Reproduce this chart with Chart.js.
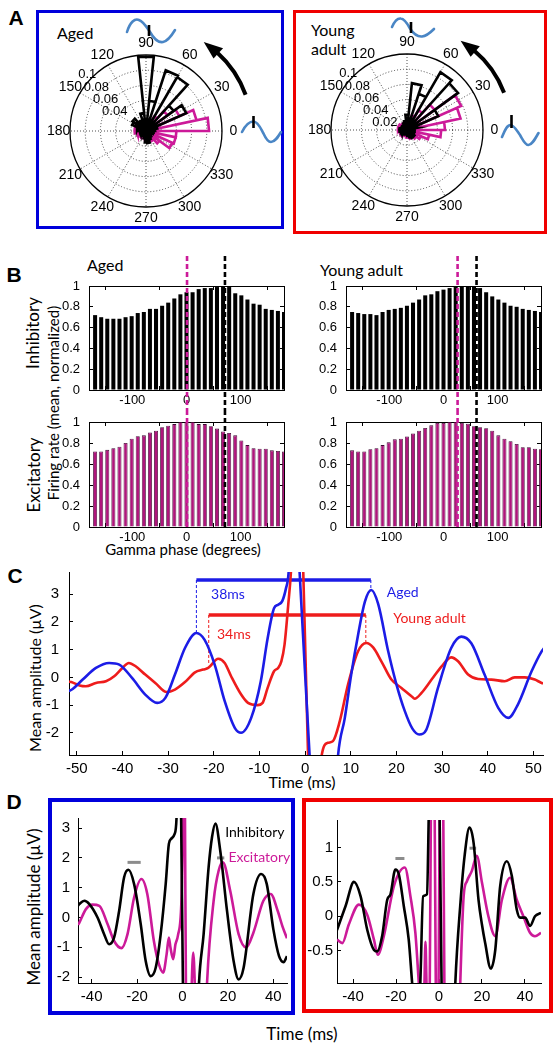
<!DOCTYPE html>
<html>
<head>
<meta charset="utf-8">
<title>Gamma phase locking - aged vs young adult</title>
<script src="https://cdn.jsdelivr.net/npm/chart.js@4.4.1/dist/chart.umd.min.js"></script>
<style>
    html, body { margin: 0; padding: 0; background: #fff; }
    body { position: relative; width: 559px; height: 1049px; overflow: hidden; font-family: Lato, "Open Sans", sans-serif; color: #000; }
    canvas { position: absolute; }
    svg { position: absolute; left: 0; top: 0; }
    .box { position: absolute; box-sizing: border-box; }
    .txt { position: absolute; white-space: nowrap; line-height: 1; }
    .ctr { position: absolute; white-space: nowrap; line-height: 1; transform: translate(-50%, -50%); }
    .vert { position: absolute; white-space: nowrap; line-height: 1; transform: translate(-50%, -50%) rotate(-90deg); }
    .letter { position: absolute; line-height: 1; transform: translate(-50%, -50%); font: bold 21px "Liberation Sans", Arial, sans-serif; }
</style>
</head>
<body>

<!-- panel frames -->
<div class="box" style="left:36px;top:10px;width:248px;height:219px;border:3.5px solid #0000dc"></div>
<div class="box" style="left:293px;top:10px;width:254px;height:224px;border:3.5px solid #f00000"></div>
<div class="box" style="left:48px;top:798px;width:247px;height:217px;border:4.5px solid #0000dc"></div>
<div class="box" style="left:302px;top:798px;width:251px;height:215px;border:4.5px solid #f00000"></div>

<!-- panel letters -->
<div class="letter" style="left:16px;top:18px">A</div>
<div class="letter" style="left:14px;top:275px">B</div>
<div class="letter" style="left:15px;top:576px">C</div>
<div class="letter" style="left:14px;top:802px">D</div>

<!-- titles and axis labels -->
<div class="txt" style="left:57px;top:25px;font-size:16px">Aged</div>
<div class="txt" style="left:311px;top:22px;font-size:16px">Young</div>
<div class="txt" style="left:311px;top:41px;font-size:16px">adult</div>

<div class="txt" style="left:87px;top:257px;font-size:16px">Aged</div>
<div class="txt" style="left:320px;top:262px;font-size:16px">Young adult</div>
<div class="vert" style="left:32px;top:333px;font-size:17px">Inhibitory</div>
<div class="vert" style="left:33px;top:475px;font-size:17px">Excitatory</div>
<div class="vert" style="left:53px;top:403px;font-size:15px">Firing rate (mean, normalized)</div>
<div class="ctr" style="left:183px;top:549px;font-size:15px">Gamma phase (degrees)</div>

<div class="vert" style="left:35px;top:678px;font-size:16px">Mean amplitude (µV)</div>
<div class="ctr" style="left:302px;top:782px;font-size:16px">Time (ms)</div>

<div class="vert" style="left:33px;top:907px;font-size:17px">Mean amplitude (µV)</div>
<div class="ctr" style="left:302px;top:1033px;font-size:17px">Time (ms)</div>

<canvas id="polarAged"></canvas>
<canvas id="polarYoung"></canvas>
<canvas id="bAgedInh"></canvas>
<canvas id="bAgedExc"></canvas>
<canvas id="bYoungInh"></canvas>
<canvas id="bYoungExc"></canvas>
<canvas id="cLfp"></canvas>
<canvas id="dAged"></canvas>
<canvas id="dYoung"></canvas>

<!-- little gamma-cycle icons and rotation arrows of panel A -->
<svg id="deco" width="559" height="240">
    <g fill="none" stroke="#4a86c5" stroke-width="2.6" stroke-linecap="round">
        <path d="M127,32 C130,22 135,18 139,20 C144,22 147,28 150,32 C154,39 158,43 163,42 C168,41 172,35 175,30"/>
        <path d="M242,132 C245,126 249,121.5 253.5,121.5 C258,121.5 261,129 263.5,133.5 C265.5,138 267.5,142 271,142 C275,142 278,137 281,132"/>
        <path d="M392,27 C395,20 398,18 401,18.5 C405,19 408,25 410,28.5 C413,33 417,37 422,36.5 C427,36 431,32 434,29"/>
        <path d="M502,137 C505,130 507,125 510.5,125 C514,125 517,131 520,135 C523,140 525,145 528.5,145 C532,145 535,139 538.5,133"/>
    </g>
    <g stroke="#000" stroke-width="2.6">
        <line x1="149" y1="25" x2="149" y2="36"/>
        <line x1="253.5" y1="116" x2="253.5" y2="128"/>
        <line x1="411" y1="22" x2="411" y2="33"/>
        <line x1="511.5" y1="115" x2="511.5" y2="128"/>
    </g>
</svg>

<script>

/* ==========================================
        DATA : A  (rose histograms, 12 deg bins from 0 deg)
========================================== */

const roseBinDeg = 12;
const roseRings = [0.02, 0.04, 0.06, 0.08, 0.1];
const roseSpokes = [0, 30, 60, 90, 120, 150];
const roseAngleLabels = [0, 30, 60, 90, 120, 150, 180, 210, 240, 270, 300, 330];
const roseRingLabelsAged = [0.04, 0.06, 0.08, 0.1];
const roseRingLabelsYoung = [0.02, 0.04, 0.06, 0.08, 0.1];

const roseAgedInh = [0.012, 0.015, 0.058, 0.045, 0.082, 0.084, 0.04, 0.098, 0.024, 0.015,
                     0.012, 0.022, 0.02, 0.012, 0.01, 0.008, 0.008, 0.006, 0.006, 0.006,
                     0.008, 0.01, 0.015, 0.016, 0.012, 0.01, 0.008, 0.008, 0.01, 0.01];
const roseAgedExc = [0.083, 0.068, 0.048, 0.035, 0.022, 0.015, 0.012, 0.01, 0.008, 0.008,
                     0.008, 0.01, 0.012, 0.015, 0.015, 0.015, 0.012, 0.01, 0.01, 0.01,
                     0.01, 0.01, 0.012, 0.012, 0.012, 0.015, 0.022, 0.038, 0.04, 0.04];
const roseYoungInh = [0.01, 0.012, 0.045, 0.083, 0.088, 0.05, 0.062, 0.02, 0.012, 0.01,
                      0.008, 0.008, 0.008, 0.008, 0.01, 0.01, 0.008, 0.006, 0.006, 0.006,
                      0.006, 0.006, 0.006, 0.008, 0.01, 0.012, 0.012, 0.01, 0.01, 0.01];
const roseYoungExc = [0.05, 0.072, 0.078, 0.045, 0.03, 0.02, 0.012, 0.01, 0.01, 0.01,
                      0.01, 0.01, 0.012, 0.012, 0.012, 0.012, 0.01, 0.01, 0.008, 0.008,
                      0.008, 0.008, 0.01, 0.01, 0.012, 0.012, 0.015, 0.02, 0.03, 0.045];

/* ==========================================
        DATA : B  (normalized firing rate vs gamma phase)
========================================== */

const phaseBins = [-168.75, -157.5, -146.25, -135, -123.75, -112.5, -101.25, -90, -78.75, -67.5,
                   -56.25, -45, -33.75, -22.5, -11.25, 0, 11.25, 22.5, 33.75, 45,
                   56.25, 67.5, 78.75, 90, 101.25, 112.5, 123.75, 135, 146.25, 157.5,
                   168.75, 180];
const phaseTicks = [-100, 0, 100];
const rateTicks = [0, 0.2, 0.4, 0.6, 0.8, 1];

const rateAgedInh = [0.72, 0.70, 0.685, 0.685, 0.685, 0.70, 0.71, 0.74, 0.75, 0.78,
                     0.78, 0.81, 0.84, 0.88, 0.92, 0.94, 0.94, 0.97, 0.98, 0.98,
                     0.99, 1.0, 0.99, 0.93, 0.91, 0.87, 0.83, 0.82, 0.78, 0.77,
                     0.76, 0.75];
const rateAgedExc = [0.72, 0.72, 0.735, 0.75, 0.765, 0.80, 0.84, 0.865, 0.873, 0.90,
                     0.917, 0.95, 0.965, 0.98, 1.0, 1.0, 1.0, 0.98, 0.98, 0.96,
                     0.937, 0.91, 0.895, 0.873, 0.825, 0.78, 0.75, 0.745, 0.745, 0.73,
                     0.725, 0.72];
const rateYoungInh = [0.75, 0.74, 0.73, 0.73, 0.72, 0.75, 0.77, 0.78, 0.79, 0.81,
                      0.84, 0.87, 0.91, 0.92, 0.95, 0.965, 0.98, 1.0, 1.0, 1.0,
                      1.0, 0.98, 0.94, 0.90, 0.87, 0.84, 0.81, 0.80, 0.78, 0.77,
                      0.76, 0.75];
const rateYoungExc = [0.73, 0.72, 0.72, 0.74, 0.75, 0.78, 0.806, 0.835, 0.84, 0.863,
                      0.89, 0.917, 0.943, 0.968, 0.99, 0.99, 1.0, 1.0, 0.99, 0.984,
                      0.96, 0.95, 0.94, 0.917, 0.873, 0.84, 0.816, 0.79, 0.76, 0.76,
                      0.746, 0.74];

// preferred phase markers (degrees): [excitatory, inhibitory]
const prefPhaseAged = [1, 71];
const prefPhaseYoung = [26, 61];

/* ==========================================
        DATA : C  (LFP around spike, aged vs young)
========================================== */

const cTimeTicks = [-50, -40, -30, -20, -10, 0, 10, 20, 30, 40, 50];
const cAmpTicks = [-2, -1, 0, 1, 2, 3];

const cAgedT = [-51.8, -50.9, -48.7, -45.8, -42.9, -40.7, -37.9, -35, -32.4, -30.6,
                -28.5, -26.3, -23.8, -22, -19.8, -17.6, -15.4, -14, -11.8, -9.7,
                -8.2, -6.8, -5.9, -5, -4.2, -3.6, -3, -1.8, -1.2, 1,
                2, 6, 7.2, 8.7, 10.1, 11.6, 13.1, 14.5, 16, 18.2,
                20, 21.8, 23.5, 25, 26.5, 29.1, 32, 34.2, 36.4, 39.3,
                42.3, 44.5, 46.6, 49.6, 51.8, 52.3];
const cAgedV = [-0.5, -0.42, -0.08, 0.34, 0.52, 0.46, -0.02, -0.62, -0.92, -0.74,
                0.1, 1.06, 1.6, 1.35, 0.46, -0.86, -1.82, -2.0, -1.46, -0.14,
                1.41, 2.49, 2.62, 2.75, 3.2, 3.8, 6, 6, 3.8, -2.85,
                -6, -6, -2.85, -1.46, 0.1, 1.53, 2.73, 3.15, 2.65, 0.94,
                -0.25, -1.2, -1.85, -2.06, -1.9, -0.38, 1.06, 1.47, 1.23, 0.1,
                -1.1, -1.46, -0.98, 0.22, 0.94, 1.05];

const cYoungT = [-51.8, -51.2, -49.4, -48, -45.8, -43.6, -41.8, -40, -38.6, -37.1,
                 -35, -32.8, -30.3, -28.5, -26.3, -24.1, -22.3, -21.2, -19, -17.6,
                 -16.2, -14, -12.5, -10.4, -9.3, -8.2, -6.8, -5.9, -5.2, -4.5,
                 -3.7, -3.1, -2.5, -1.2, -0.4, 0.66, 1.5, 3, 3.6, 5,
                 6.1, 7.6, 9.4, 11.6, 13.4, 14.9, 16.7, 18.9, 21.1, 23.3,
                 24, 25.5, 27.7, 29.9, 32, 33.5, 35.7, 37.9, 40.8, 43.7,
                 45.9, 48.1, 50.3, 51.8, 52.3];
const cYoungV = [-0.15, -0.17, -0.29, -0.32, -0.2, -0.14, 0.04, 0.34, 0.52, 0.4,
                 0.1, -0.2, -0.53, -0.44, -0.17, 0.18, 0.28, 0.34, 0.67, 0.52,
                 0.04, -0.62, -0.92, -1.0, -0.92, -0.38, 0.22, 0.34, 0.58, 1.18,
                 2.6, 3.8, 6, 6, 3.8, -2.85, -5, -5, -2.85, -2.36,
                 -2.3, -1.58, -0.26, 0.94, 1.24, 1.08, 0.58, -0.08, -0.38, -0.68,
                 -0.77, -0.56, -0.08, 0.4, 0.72, 0.58, 0.1, -0.06, -0.08, -0.14,
                 0, 0, -0.08, -0.2, -0.22];

// peak-to-peak lag markers: [start, end] time, bar level, curve value at each end
const cLagAgedT = [-23.8, 14.4];
const cLagAgedLevel = 3.51;
const cLagAgedPeaks = [1.6, 3.15];
const cLagYoungT = [-21.1, 13.3];
const cLagYoungLevel = 2.25;
const cLagYoungPeaks = [0.45, 1.24];

/* ==========================================
        DATA : D  (LFP around inhibitory / excitatory spikes)
========================================== */

const dAgedTimeTicks = [-40, -20, 0, 20, 40];
const dAgedAmpTicks = [-2, -1, 0, 1, 2, 3];
const dYoungTimeTicks = [-40, -20, 0, 20, 40];
const dYoungAmpTicks = [-0.5, 0, 0.5, 1];

const dAgedInhT = [-46, -45.4, -43.2, -41, -37.4, -34.5, -32.3, -30.1, -27.9, -25.7,
                   -23.8, -21.3, -18.4, -16.2, -14, -11.8, -9.6, -7.4, -6, -5,
                   -3.5, -2.6, -2, -1.2, -0.6, 0.2, 1, 6, 7.2, 9.3,
                   11.5, 13, 14.5, 16.6, 19.6, 22.5, 24.7, 26.9, 31.2, 34.6,
                   37.1, 40, 42.5, 44.5, 46];
const dAgedInhV = [0.4, 0.45, 0.56, 0.45, 0, -0.56, -0.9, -0.67, 0.22, 1.35,
                   1.6, 1.12, -0.22, -1.46, -1.97, -1.69, -0.56, 1.12, 2.47, 2.64,
                   2.8, 3.4, 6, 6, 3.3, -2.3, -5, -5, -2.3, -0.56,
                   1.69, 2.7, 3.15, 2.25, 0.22, -1.46, -2.08, -1.69, 0.79, 1.46,
                   1.12, -0.4, -1.3, -1.5, -1.3];

const dAgedExcT = [-46, -45.4, -42.5, -39.6, -36.6, -33, -30.1, -26.9, -24.2, -21.3,
                   -18.1, -15.5, -12.6, -10.4, -8.5, -7, -6, -5.3, -4.1, -3.1,
                   -2, -0.5, 0.3, 0.7, 1.1, 1.5, 2.2, 3.2, 4.7, 5.8,
                   7, 9.5, 10.8, 13.7, 15.9, 17.8, 21, 24.7, 28, 31.2,
                   35.6, 38.8, 42, 44, 46];
const dAgedExcV = [-0.25, -0.17, 0.28, 0.43, 0.39, -0.22, -0.79, -1.03, -0.56, 0.67,
                   1.29, 0.79, -0.79, -1.57, -1.85, -1.24, -0.67, -1.01, -1.4, -0.9,
                   -0.6, 0.5, 3.3, 6, 3.3, -2.2, -2.6, -4, -1.18, -3,
                   -5, -5, -2.2, 0.56, 1.57, 1.85, 0.9, -0.56, -1.01, -0.51,
                   0.56, 0.79, 0.2, -0.3, -0.7];

const dYoungInhT = [-47.5, -43.5, -39.6, -36.5, -33.4, -30.3, -28.8, -26.5, -24.1, -22.6,
                    -20.3, -18.7, -16.4, -14.1, -12.5, -11, -9.5, -8.7, -7.4, -5.6,
                    -4.8, -4, -1.5, 0.3, 1.2, 3, 6.5, 7.6, 10, 12,
                    14.2, 16.1, 18.4, 20, 21.5, 24.1, 26.2, 28.5, 31.6, 33.9,
                    36.2, 37.8, 40.1, 42.4, 44.7, 47.5];
const dYoungInhV = [-0.2, 0.15, 0.5, 0.29, -0.2, -0.49, -0.51, -0.29, 0.24, 0.32,
                    0.68, 0.61, 0.15, -0.34, -0.97, -1.5, -1.5, -0.97, 0.29, 0.32,
                    1.42, 3, 3, 1.42, -0.97, -2, -2, -0.97, 0.2, 0.9,
                    1.29, 1.07, 0.24, -0.12, -0.39, -0.76, -0.49, 0.44, 0.8, 0.59,
                    0.1, -0.02, -0.02, -0.14, 0, 0.05];

const dYoungExcT = [-47.5, -45, -42, -37.3, -33.4, -30.3, -28.5, -25.7, -21, -15.9,
                    -13.3, -11, -9.4, -8, -6.8, -6.3, -5.8, -5, -4.3, -3.8,
                    -3.3, -2.5, -2, -1.5, -1, -0.2, 0.3, 0.8, 1.5, 2,
                    2.5, 3, 9, 9.9, 11.5, 13, 15.3, 17.6, 20, 23,
                    26.2, 29.3, 33.1, 36.2, 39.3, 42.4, 44.7, 47.5];
const dYoungExcV = [-0.34, -0.39, -0.12, 0.17, 0.02, -0.34, -0.56, -0.29, 0.44, 0.71,
                    0.29, -0.24, -0.97, -1.6, -1.0, -0.37, -1.0, -1.6, -0.97, 1.42,
                    3, 3, 1.42, -0.97, -2, -0.97, 1.42, 3, 3, 1.42,
                    -0.97, -2, -2, -0.97, 0.3, 0.51, 0.66, 0.88, 0.49, 0,
                    -0.29, 0.24, 0.56, 0.24, 0, -0.24, -0.29, -0.24];

// grey lag markers: [start, end] time and level
const dAgedLag1 = [-24.2, -18.4];
const dAgedLag1Level = 1.85;
const dAgedLag2 = [15.2, 18.4];
const dAgedLag2Level = 2.0;
const dYoungLag1 = [-20.3, -16.1];
const dYoungLag1Level = 0.84;
const dYoungLag2 = [14.2, 17.3];
const dYoungLag2Level = 0.99;

/* ==========================================
        STYLE
========================================== */

const BLACK = "#000000";
const MAGENTA = "#cc1a99";
const BAR_MAGENTA = "#b0157c";
const BAR_EDGE = "#3c0830";
const BLUE = "#1c1ce6";
const RED = "#ee1c1c";
const GREY = "#8c8c8c";
const ARIAL = '"Liberation Sans", Arial, sans-serif';
const CALIBRI = 'Lato, "Open Sans", sans-serif';

Chart.defaults.animation = false;
Chart.defaults.responsive = false;
Chart.defaults.devicePixelRatio = 1;
Chart.defaults.events = [];
Chart.defaults.font.family = ARIAL;
Chart.defaults.color = BLACK;
Chart.defaults.plugins.legend.display = false;
Chart.defaults.plugins.tooltip.enabled = false;

/* ==========================================
        HELPERS
========================================== */

// plot = [left, top, right, bottom] of the axes box in page px
// m = [left, top, right, bottom] margins around it
function place(id, plot, m) {

    const c = document.getElementById(id);
    const w = plot[2] - plot[0] + m[0] + m[2];
    const h = plot[3] - plot[1] + m[1] + m[3];

    c.width = w;
    c.height = h;
    c.style.left = (plot[0] - m[0]) + "px";
    c.style.top = (plot[1] - m[1]) + "px";

    return c;

}

// fixed axis thickness, no label overhang padding, inward ticks
function fixSize(s, size, isY) {

    if (isY) { s.width = size; } else { s.height = size; }
    s.paddingLeft = 0;
    s.paddingRight = 0;
    s.paddingTop = 0;
    s.paddingBottom = 0;

}

function axis(min, max, ticks, size, pad, fontSize, isY) {

    return {
        type: "linear",
        position: isY ? "left" : "bottom",
        min: min,
        max: max,
        offset: false,
        grid: { display: true, drawOnChartArea: false, drawTicks: true, tickLength: -4, color: BLACK, lineWidth: 1 },
        border: { display: true, color: BLACK, width: 1 },
        ticks: {
            font: { size: fontSize },
            padding: pad + 4,
            autoSkip: false,
            maxRotation: 0,
            callback: v => String(v)
        },
        afterBuildTicks: s => { s.ticks = ticks.map(v => ({ value: v })); },
        afterFit: s => fixSize(s, size, isY)
    };

}

// top / right side of a boxed axes
function mirrorAxis(min, max, ticks, isY) {

    return {
        type: "linear",
        position: isY ? "right" : "top",
        min: min,
        max: max,
        offset: false,
        grid: { display: true, drawOnChartArea: false, drawTicks: true, tickLength: -4, color: BLACK, lineWidth: 1 },
        border: { display: true, color: BLACK, width: 1 },
        ticks: { display: false },
        afterBuildTicks: s => { s.ticks = ticks.map(v => ({ value: v })); },
        afterFit: s => fixSize(s, 0, isY)
    };

}

function xy(xs, ys) {
    return xs.map((x, i) => ({ x: x, y: ys[i] }));
}

function curve(xs, ys, color) {
    return {
        data: xy(xs, ys),
        borderColor: color,
        borderWidth: 2.6,
        pointRadius: 0,
        cubicInterpolationMode: "monotone",
        fill: false,
        clip: 0
    };
}

function segment(xs, ys, color, width, dash) {
    return {
        data: xy(xs, ys),
        borderColor: color,
        borderWidth: width,
        borderDash: dash || [],
        pointRadius: 0,
        tension: 0,
        fill: false,
        clip: false
    };
}

/* ==========================================
        PLUGINS
========================================== */

// dashed preferred-phase lines running through the canvas
function phaseMarks(phases, colors, stopAtAxis) {

    return {
        id: "phaseMarks",
        afterDraw(chart) {

            const { ctx, chartArea: a, scales: { x } } = chart;
            const bottom = stopAtAxis ? a.bottom : chart.height;

            ctx.save();
            ctx.lineWidth = 2.6;
            ctx.setLineDash([5, 3]);
            phases.forEach((p, i) => {
                const px = x.getPixelForValue(p);
                ctx.strokeStyle = colors[i];
                ctx.beginPath();
                ctx.moveTo(px, 0);
                ctx.lineTo(px, bottom);
                ctx.stroke();
            });
            ctx.restore();

        }
    };

}

// text placed at data coordinates
function dataText(items) {

    return {
        id: "dataText",
        afterDraw(chart) {

            const { ctx, scales: { x, y } } = chart;

            ctx.save();
            ctx.textAlign = "left";
            ctx.textBaseline = "middle";
            items.forEach(it => {
                ctx.font = it.font;
                ctx.fillStyle = it.color;
                ctx.fillText(it.text, x.getPixelForValue(it.x), y.getPixelForValue(it.y));
            });
            ctx.restore();

        }
    };

}

// polar grid of matlab "polar" / "rose"
function roseGrid(ringLabels) {

    return {
        id: "roseGrid",
        beforeDatasetsDraw(chart) {

            const { ctx, scales: { x, y } } = chart;
            const cx = x.getPixelForValue(0);
            const cy = y.getPixelForValue(0);
            const rad = v => x.getPixelForValue(v) - cx;
            const rmax = roseRings[roseRings.length - 1];
            const R = rad(rmax);

            ctx.save();

            ctx.strokeStyle = "#222";
            ctx.lineWidth = 0.8;
            ctx.setLineDash([1, 2]);
            roseRings.forEach(v => {
                if (v < rmax) {
                    ctx.beginPath();
                    ctx.arc(cx, cy, rad(v), 0, 2 * Math.PI);
                    ctx.stroke();
                }
            });
            roseSpokes.forEach(d => {
                const a = d * Math.PI / 180;
                ctx.beginPath();
                ctx.moveTo(cx + R * Math.cos(a), cy - R * Math.sin(a));
                ctx.lineTo(cx - R * Math.cos(a), cy + R * Math.sin(a));
                ctx.stroke();
            });

            ctx.setLineDash([]);
            ctx.strokeStyle = BLACK;
            ctx.lineWidth = 1.3;
            ctx.beginPath();
            ctx.arc(cx, cy, R, 0, 2 * Math.PI);
            ctx.stroke();

            ctx.fillStyle = BLACK;
            ctx.textAlign = "center";
            ctx.textBaseline = "middle";
            ctx.font = "14px " + ARIAL;
            roseAngleLabels.forEach(d => {
                const a = d * Math.PI / 180;
                ctx.fillText(String(d), cx + 1.15 * R * Math.cos(a), cy - 1.15 * R * Math.sin(a));
            });

            ctx.font = "13px " + ARIAL;
            const la = 127 * Math.PI / 180;
            ringLabels.forEach(v => {
                const r = rad(v);
                ctx.fillText(String(v), cx + r * Math.cos(la) - 13, cy - r * Math.sin(la) + 4.6);
            });

            ctx.restore();

        }
    };

}

/* ==========================================
        A : ROSE PLOTS
========================================== */

function rosePoints(vals) {

    const pts = [];

    vals.forEach((r, i) => {
        const a1 = i * roseBinDeg * Math.PI / 180;
        const a2 = (i + 1) * roseBinDeg * Math.PI / 180;
        pts.push({ x: 0, y: 0 });
        pts.push({ x: r * Math.cos(a1), y: r * Math.sin(a1) });
        pts.push({ x: r * Math.cos(a2), y: r * Math.sin(a2) });
    });
    pts.push({ x: 0, y: 0 });

    return pts;

}

function renderRose(id, center, inh, exc, ringLabels) {

    const half = 112;
    const pxPerUnit = 760;
    const lim = half / pxPerUnit;
    const canvas = place(id, [center[0] - half, center[1] - half, center[0] + half, center[1] + half], [0, 0, 0, 0]);

    const ds = (vals, color) => ({
        data: rosePoints(vals),
        showLine: true,
        borderColor: color,
        borderWidth: 2.6,
        borderJoinStyle: "miter",
        pointRadius: 0,
        tension: 0,
        fill: false,
        clip: false
    });

    return new Chart(canvas, {
        type: "scatter",
        data: { datasets: [ds(inh, BLACK), ds(exc, MAGENTA)] },
        options: {
            layout: { padding: 0 },
            scales: {
                x: { type: "linear", display: false, min: -lim, max: lim },
                y: { type: "linear", display: false, min: -lim, max: lim }
            }
        },
        plugins: [roseGrid(ringLabels)]
    });

}

/* ==========================================
        B : PHASE HISTOGRAMS
========================================== */

function renderPhaseBars(id, plot, m, vals, fill, edge, marks, stopAtAxis) {

    const canvas = place(id, plot, m);

    return new Chart(canvas, {
        type: "bar",
        data: {
            datasets: [{
                data: xy(phaseBins, vals),
                backgroundColor: fill,
                borderColor: edge || fill,
                borderWidth: edge ? 0.8 : 0,
                barPercentage: 0.66,
                categoryPercentage: 1,
                clip: 0
            }]
        },
        options: {
            layout: { padding: { left: 0, top: m[1], right: m[2], bottom: 0 } },
            scales: {
                x: axis(-180, 180, phaseTicks, m[3], 3, 13, false),
                y: axis(0, 1, rateTicks, m[0], 9, 13, true),
                x2: mirrorAxis(-180, 180, phaseTicks, false),
                y2: mirrorAxis(0, 1, rateTicks, true)
            }
        },
        plugins: [phaseMarks(marks, [MAGENTA, BLACK], stopAtAxis)]
    });

}

/* ==========================================
        C : LFP AVERAGE
========================================== */

function renderLfp() {

    const plot = [69, 572, 543, 755];
    const m = [60, 8, 12, 24];
    const canvas = place("cLfp", plot, m);

    const datasets = [
        curve(cAgedT, cAgedV, BLUE),
        curve(cYoungT, cYoungV, RED),
        segment(cLagAgedT, [cLagAgedLevel, cLagAgedLevel], BLUE, 3.5),
        segment([cLagAgedT[0], cLagAgedT[0]], [cLagAgedLevel, cLagAgedPeaks[0]], BLUE, 1, [3, 2]),
        segment([cLagAgedT[1], cLagAgedT[1]], [cLagAgedLevel, cLagAgedPeaks[1]], BLUE, 1, [3, 2]),
        segment(cLagYoungT, [cLagYoungLevel, cLagYoungLevel], RED, 3.5),
        segment([cLagYoungT[0], cLagYoungT[0]], [cLagYoungLevel, cLagYoungPeaks[0]], RED, 1, [3, 2]),
        segment([cLagYoungT[1], cLagYoungT[1]], [cLagYoungLevel, cLagYoungPeaks[1]], RED, 1, [3, 2])
    ];

    return new Chart(canvas, {
        type: "line",
        data: { datasets: datasets },
        options: {
            layout: { padding: { left: 0, top: m[1], right: m[2], bottom: 0 } },
            scales: {
                x: axis(-51.7, 52.1, cTimeTicks, m[3], 5, 15, false),
                y: axis(-2.8, 3.8, cAmpTicks, m[0], 10, 15, true)
            }
        },
        plugins: [
            dataText([
                { text: "38ms", x: -20.6, y: 3.0, color: BLUE, font: "14px " + CALIBRI },
                { text: "34ms", x: -19.3, y: 1.56, color: RED, font: "14px " + CALIBRI },
                { text: "Aged", x: 17.9, y: 3.07, color: BLUE, font: "14px " + CALIBRI },
                { text: "Young adult", x: 19.3, y: 2.13, color: RED, font: "14px " + CALIBRI }
            ])
        ]
    });

}

/* ==========================================
        D : LFP AROUND INH / EXC SPIKES
========================================== */

function renderSpikeLfp(id, plot, m, xr, yr, xTicks, yTicks, inh, exc, lags, labels, yPad) {

    const canvas = place(id, plot, m);

    const datasets = [
        curve(inh[0], inh[1], BLACK),
        curve(exc[0], exc[1], MAGENTA)
    ];
    lags.forEach(l => datasets.push(segment(l[0], [l[1], l[1]], GREY, 3)));

    return new Chart(canvas, {
        type: "line",
        data: { datasets: datasets },
        options: {
            layout: { padding: { left: 0, top: m[1], right: m[2], bottom: 0 } },
            scales: {
                x: axis(xr[0], xr[1], xTicks, m[3], 5, 15, false),
                y: axis(yr[0], yr[1], yTicks, m[0], yPad, 15, true)
            }
        },
        plugins: [dataText(labels)]
    });

}

/* ==========================================
        DECORATION : ROTATION ARROWS
========================================== */

function drawArrow(cx, cy, r, a0, a1, tip) {

    const svg = document.getElementById("deco");
    const ns = "http://www.w3.org/2000/svg";
    const p = (rr, deg) => {
        const a = deg * Math.PI / 180;
        return [cx + rr * Math.cos(a), cy - rr * Math.sin(a)];
    };
    const s = p(r, a0), e = p(r, a1);

    const arc = document.createElementNS(ns, "path");
    arc.setAttribute("d", `M${s[0]},${s[1]} A${r},${r} 0 0 0 ${e[0]},${e[1]}`);
    arc.setAttribute("fill", "none");
    arc.setAttribute("stroke", BLACK);
    arc.setAttribute("stroke-width", "4");
    svg.appendChild(arc);

    const t = p(r, tip), b1 = p(r - 7, a1 - 1), b2 = p(r + 7, a1 - 1);
    const head = document.createElementNS(ns, "polygon");
    head.setAttribute("points", `${t[0]},${t[1]} ${b1[0]},${b1[1]} ${b2[0]},${b2[1]}`);
    head.setAttribute("fill", BLACK);
    svg.appendChild(head);

}

/* ==========================================
        LOAD
========================================== */

window.addEventListener("load", () => {

    renderRose("polarAged", [146, 131], roseAgedInh, roseAgedExc, roseRingLabelsAged);
    renderRose("polarYoung", [407, 130], roseYoungInh, roseYoungExc, roseRingLabelsYoung);

    drawArrow(146, 131, 106, 20, 48, 57);
    drawArrow(407, 130, 104, 21, 50, 59);

    renderPhaseBars("bAgedInh", [89, 286, 284, 390], [36, 30, 6, 20], rateAgedInh, BLACK, null, prefPhaseAged, false);
    renderPhaseBars("bAgedExc", [89, 422, 284, 527], [36, 12, 6, 20], rateAgedExc, BAR_MAGENTA, BAR_EDGE, prefPhaseAged, true);
    renderPhaseBars("bYoungInh", [346, 286, 541, 390], [36, 30, 6, 20], rateYoungInh, BLACK, null, prefPhaseYoung, false);
    renderPhaseBars("bYoungExc", [346, 422, 541, 527], [36, 12, 6, 20], rateYoungExc, BAR_MAGENTA, BAR_EDGE, prefPhaseYoung, true);

    renderLfp();

    renderSpikeLfp("dAged", [78, 818, 287, 983], [44, 10, 8, 24], [-46, 46], [-2.2, 3.34],
        dAgedTimeTicks, dAgedAmpTicks, [dAgedInhT, dAgedInhV], [dAgedExcT, dAgedExcV],
        [[dAgedLag1, dAgedLag1Level], [dAgedLag2, dAgedLag2Level]],
        [
            { text: "Inhibitory", x: 18.8, y: 2.85, color: BLACK, font: "14px " + CALIBRI },
            { text: "Excitatory", x: 20.2, y: 2.0, color: MAGENTA, font: "14px " + CALIBRI }
        ], 8);

    renderSpikeLfp("dYoung", [337, 820, 541, 983], [40, 8, 8, 24], [-47.5, 47.5], [-0.97, 1.4],
        dYoungTimeTicks, dYoungAmpTicks, [dYoungInhT, dYoungInhV], [dYoungExcT, dYoungExcV],
        [[dYoungLag1, dYoungLag1Level], [dYoungLag2, dYoungLag2Level]],
        [], 4);

});

</script>
</body>
</html>
